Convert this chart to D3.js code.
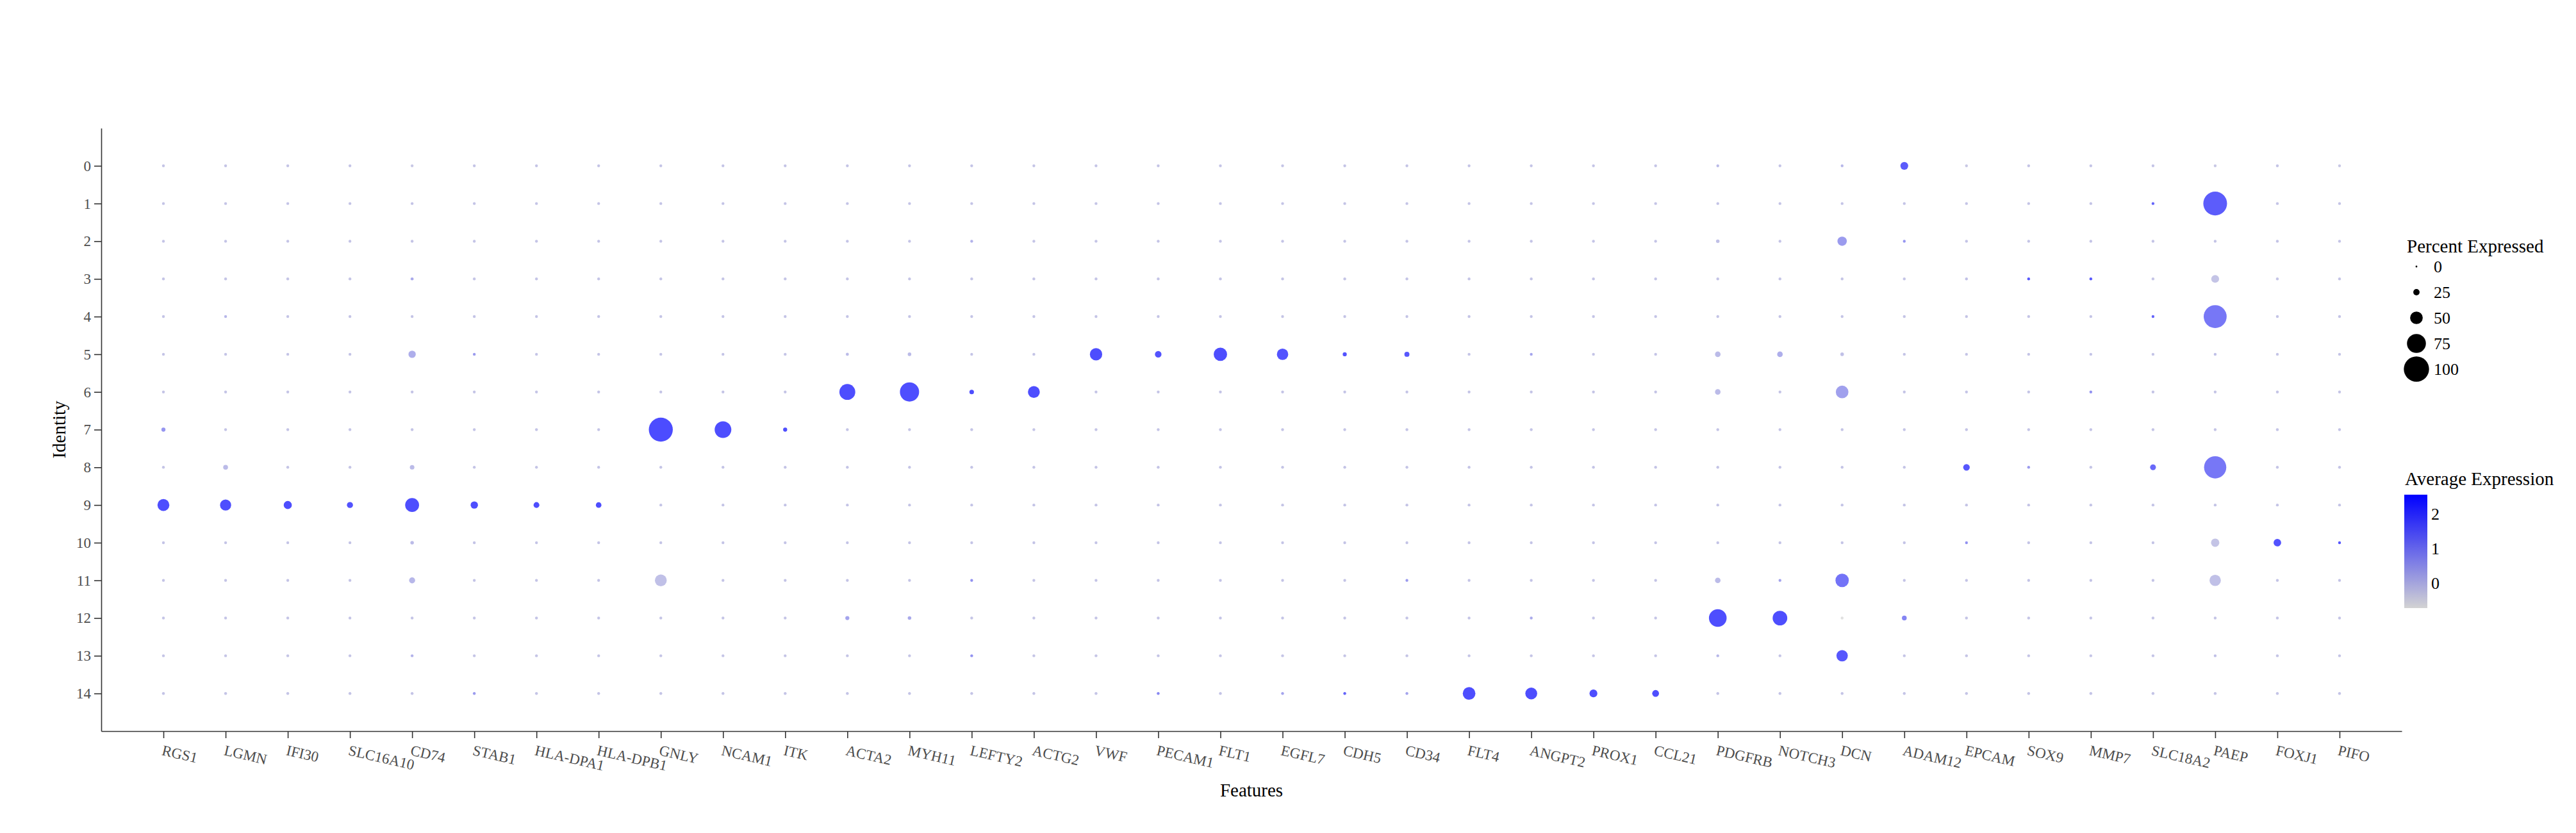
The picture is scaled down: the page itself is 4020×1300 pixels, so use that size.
<!DOCTYPE html>
<html><head><meta charset="utf-8">
<script src="https://cdn.jsdelivr.net/npm/d3@7/dist/d3.min.js"></script>
<style>
body{margin:0;background:#fff}
svg{display:block}
text{font-family:"Liberation Serif","Times New Roman",Times,serif}
</style>
</head><body>
<svg id="chart" width="4020" height="1300"></svg>
<script>
// ---------- data ----------
const features = ["RGS1","LGMN","IFI30","SLC16A10","CD74","STAB1","HLA-DPA1","HLA-DPB1","GNLY","NCAM1","ITK","ACTA2","MYH11","LEFTY2","ACTG2","VWF","PECAM1","FLT1","EGFL7","CDH5","CD34","FLT4","ANGPT2","PROX1","CCL21","PDGFRB","NOTCH3","DCN","ADAM12","EPCAM","SOX9","MMP7","SLC18A2","PAEP","FOXJ1","PIFO"];
const clusters = ["0","1","2","3","4","5","6","7","8","9","10","11","12","13","14"];

// percent expressed, one row per cluster, one column per feature
const pctExpressed = [
/*0*/ [2,2,2,2,2,2,2,2, 2,2,2, 2,2,2,2, 2,2,2,2,2,2, 2,2,2,2, 10,2,10,31, 2,2,2,2,2,2,2],
/*1*/ [2,2,2,2,2,2,2,2, 2,2,2, 2,2,2,2, 2,2,2,2,2,2, 2,2,2,2, 2,2,2,2, 2,2,2,7,94,2,2],
/*2*/ [2,2,2,2,2,2,2,2, 2,2,2, 2,2,3,2, 2,2,2,2,2,2, 2,2,2,2, 14,2,37,7, 2,2,2,2,2,2,2],
/*3*/ [2,2,2,2,12,2,2,2, 2,2,2, 2,2,2,2, 2,2,2,2,2,2, 2,2,2,2, 2,2,2,2, 3,4,4,2,31,2,2],
/*4*/ [2,3,2,2,2,2,2,2, 2,2,2, 2,2,2,2, 2,2,2,2,2,2, 2,2,2,2, 2,2,2,2, 2,2,2,4,91,2,2],
/*5*/ [2,2,2,2,29,3,2,2, 2,2,2, 12,14,2,2, 49,26,53,45,16,20, 2,6,2,2, 22,22,14,2, 2,2,2,2,2,2,2],
/*6*/ [2,2,2,2,2,2,2,2, 2,2,2, 63,76,18,47, 2,2,2,2,2,2, 2,2,2,2, 22,2,50,2, 2,2,4,2,2,2,2],
/*7*/ [16,2,2,2,2,2,2,2, 95,66,16, 2,2,2,2, 2,2,2,2,2,2, 2,2,2,2, 2,2,2,2, 2,2,2,2,2,2,2],
/*8*/ [2,19,2,2,18,2,2,2, 2,2,2, 2,2,2,2, 2,2,2,2,2,2, 2,2,2,2, 2,2,2,2, 26,5,2,23,88,2,2],
/*9*/ [47,44,32,24,55,29,23,22, 2,2,2, 2,2,2,2, 2,2,2,2,2,2, 2,2,2,2, 2,2,2,2, 2,2,2,2,2,2,2],
/*10*/[2,2,2,2,14,2,2,2, 2,2,2, 2,2,2,2, 2,2,2,2,2,2, 2,2,2,2, 2,2,2,2, 4,2,2,2,33,30,6],
/*11*/[2,2,2,2,24,2,2,2, 47,2,2, 2,2,4,2, 2,2,2,2,2,4, 2,2,2,2, 22,6,53,2, 2,2,2,2,45,2,2],
/*12*/[2,2,2,2,2,2,2,2, 2,2,2, 16,14,2,2, 2,2,2,2,2,2, 2,5,2,2, 70,58,2,19, 2,2,2,2,2,2,2],
/*13*/[2,2,2,2,3,2,2,2, 2,2,2, 2,2,4,2, 2,2,2,2,2,2, 2,2,2,2, 6,2,45,2, 2,2,2,2,5,2,2],
/*14*/[2,2,2,2,2,4,2,2, 2,2,2, 2,2,2,2, 2,5,2,5,4,4, 50,47,31,27, 2,2,2,2, 2,2,2,2,2,2,2]
];

// average (scaled) expression, same layout
const avgExpression = [
/*0*/ [-0.1,-0.1,-0.1,-0.1,-0.2,-0.1,-0.1,-0.1, -0.1,-0.1,-0.1, -0.1,-0.1,-0.1,-0.1, -0.1,-0.1,-0.1,-0.1,-0.1,-0.1, -0.1,-0.1,-0.1,-0.1, 0.1,-0.1,0.2,2.2, -0.2,-0.1,-0.1,-0.1,-0.2,-0.1,-0.2],
/*1*/ [-0.1,-0.1,-0.1,-0.1,-0.1,-0.1,-0.1,-0.1, -0.1,-0.1,-0.1, -0.1,-0.1,-0.1,-0.1, -0.1,-0.1,-0.1,-0.1,-0.1,-0.1, -0.1,-0.1,-0.1,-0.1, -0.1,-0.1,-0.1,-0.1, -0.1,-0.1,-0.1,2.0,2.2,-0.1,-0.1],
/*2*/ [-0.1,-0.1,-0.1,-0.1,-0.1,-0.1,-0.1,-0.1, -0.1,-0.1,-0.1, -0.1,-0.1,0.3,-0.1, -0.1,-0.1,-0.1,-0.1,-0.1,-0.1, -0.1,-0.1,-0.1,-0.1, 0.0,-0.1,0.8,0.9, -0.1,-0.1,-0.1,-0.1,-0.1,-0.1,-0.1],
/*3*/ [-0.1,-0.1,-0.1,-0.1,0.5,-0.1,-0.1,-0.1, -0.1,-0.1,-0.1, -0.1,-0.1,-0.1,-0.1, -0.1,-0.1,-0.1,-0.1,-0.1,-0.1, -0.1,-0.1,-0.1,-0.1, -0.1,-0.1,-0.1,-0.1, 0.0,2.3,2.3,-0.1,-0.1,-0.1,-0.1],
/*4*/ [-0.1,0.2,-0.1,-0.1,-0.1,-0.1,-0.1,-0.1, -0.1,-0.1,-0.1, -0.1,-0.1,-0.1,-0.1, -0.1,-0.1,-0.1,-0.1,-0.1,-0.1, -0.1,-0.1,-0.1,-0.1, -0.1,-0.1,-0.1,-0.1, -0.1,-0.1,-0.1,2.0,1.6,-0.1,-0.1],
/*5*/ [-0.1,-0.1,-0.1,-0.1,0.4,0.8,-0.1,-0.1, -0.1,-0.1,-0.1, 0.1,0.1,-0.1,-0.1, 2.5,2.4,2.5,2.4,2.4,2.3, -0.1,0.6,-0.1,-0.1, 0.1,0.4,0.0,-0.1, -0.1,-0.1,-0.1,-0.1,0.0,-0.1,-0.1],
/*6*/ [-0.1,-0.1,-0.1,-0.1,-0.1,-0.1,-0.1,-0.1, -0.1,-0.1,-0.1, 2.5,2.5,2.5,2.5, -0.1,-0.1,-0.1,-0.1,-0.1,-0.1, -0.1,-0.1,-0.1,-0.1, 0.1,-0.1,0.7,-0.1, -0.1,-0.1,1.0,-0.1,-0.1,-0.1,-0.1],
/*7*/ [0.9,-0.1,-0.1,-0.1,-0.1,-0.1,-0.1,-0.1, 2.55,2.5,2.5, -0.1,-0.1,-0.1,-0.1, -0.1,-0.1,-0.1,-0.1,-0.1,-0.1, -0.1,-0.1,-0.1,-0.1, -0.1,-0.1,-0.1,-0.1, -0.1,-0.1,-0.1,-0.1,-0.1,-0.1,-0.1],
/*8*/ [-0.1,0.1,-0.1,-0.1,0.1,-0.1,-0.1,-0.1, -0.1,-0.1,-0.1, -0.1,-0.1,-0.1,-0.1, -0.1,-0.1,-0.1,-0.1,-0.1,-0.1, -0.1,-0.1,-0.1,-0.1, -0.1,-0.1,-0.1,-0.1, 2.3,0.8,-0.1,1.9,1.6,-0.1,-0.1],
/*9*/ [2.5,2.5,2.5,2.4,2.5,2.5,2.5,2.5, -0.1,-0.1,-0.1, -0.1,-0.1,-0.1,-0.1, -0.1,-0.1,-0.1,-0.1,-0.1,-0.1, -0.1,-0.1,-0.1,-0.1, -0.1,-0.1,-0.1,-0.1, -0.1,-0.1,-0.1,-0.1,-0.1,-0.1,-0.1],
/*10*/[-0.1,-0.1,-0.1,-0.1,0.1,-0.1,-0.1,-0.1, -0.1,-0.1,-0.1, -0.1,-0.1,-0.1,-0.1, -0.1,-0.1,-0.1,-0.1,-0.1,-0.1, -0.1,-0.1,-0.1,-0.1, -0.1,-0.1,-0.1,-0.1, 1.0,-0.1,-0.1,-0.1,-0.1,2.4,2.3],
/*11*/[-0.1,-0.1,-0.1,-0.1,0.2,-0.1,-0.1,-0.1, 0.0,-0.1,-0.1, -0.1,-0.1,1.0,-0.1, -0.1,-0.1,-0.1,-0.1,-0.1,0.8, -0.1,-0.1,-0.1,-0.1, 0.1,0.6,1.7,-0.1, -0.1,-0.1,-0.1,-0.1,0.0,-0.1,-0.1],
/*12*/[-0.1,-0.1,-0.1,-0.1,-0.1,-0.1,-0.1,-0.1, -0.1,-0.1,-0.1, 0.6,0.5,-0.1,-0.1, -0.1,-0.1,-0.1,-0.1,-0.1,-0.1, -0.1,0.5,-0.1,-0.1, 2.5,2.5,-0.72,1.3, -0.1,-0.1,-0.1,-0.1,-0.1,-0.1,-0.1],
/*13*/[-0.1,-0.1,-0.1,-0.1,0.3,-0.1,-0.1,-0.1, -0.1,-0.1,-0.1, -0.1,-0.1,1.0,-0.1, -0.1,-0.1,-0.1,-0.1,-0.1,-0.1, -0.1,-0.1,-0.1,-0.1, 0.2,-0.1,2.3,-0.1, -0.1,-0.1,-0.1,-0.1,0.0,-0.1,-0.1],
/*14*/[-0.1,-0.1,-0.1,-0.1,-0.1,0.8,-0.1,-0.1, -0.1,-0.1,-0.1, -0.1,-0.1,-0.1,-0.1, -0.1,1.2,-0.1,0.6,2.0,0.6, 2.5,2.5,2.5,2.5, -0.1,-0.1,-0.1,-0.1, -0.1,-0.1,-0.1,-0.1,-0.1,-0.1,-0.1]
];

const sizeBreaks = [0, 25, 50, 75, 100];
const colorBreaks = [0, 1, 2];

// ---------- layout ----------
const svg = d3.select("#chart");
const plot = {left: 158, right: 3748, top: 200, bottom: 1141};

const x = d3.scalePoint().domain(features).range([plot.left, plot.right]).padding(1);
const y = d3.scalePoint().domain(clusters).range([plot.top, plot.bottom]).padding(1);
const rScale = d3.scaleLinear().domain([0, 100]).range([0, 19.7]);
const radius = p => Math.max(2.2, rScale(p));
const cDomain = d3.extent(avgExpression.flat());
const color = d3.scaleLinear().domain(cDomain).range(["lightgrey", "blue"]).interpolate(d3.interpolateRgb);

// ---------- dots ----------
const cells = [];
clusters.forEach((c, i) => features.forEach((f, j) => {
  cells.push({cluster: c, feature: f, pct: pctExpressed[i][j], avg: avgExpression[i][j]});
}));

svg.append("g").selectAll("circle").data(cells).join("circle")
  .attr("cx", d => x(d.feature))
  .attr("cy", d => y(d.cluster))
  .attr("r", d => radius(d.pct))
  .attr("fill", d => color(d.avg))
  .attr("fill-opacity", 0.7);

// ---------- axes ----------
const axisColor = "#333333";
const labelColor = "#4d4d4d";

const xAxis = svg.append("g").attr("transform", `translate(0,${plot.bottom})`)
  .call(d3.axisBottom(x).tickSize(11).tickSizeOuter(0));
xAxis.select(".domain").attr("stroke", axisColor).attr("stroke-width", 1.6);
xAxis.selectAll(".tick line").attr("stroke", axisColor).attr("stroke-width", 1.6);
xAxis.selectAll(".tick text")
  .attr("x", 0).attr("y", 0).attr("dy", "0.8em")
  .attr("transform", "translate(0,19) rotate(13)")
  .attr("text-anchor", "start")
  .attr("font-size", 23)
  .attr("font-family", '"Liberation Serif", serif')
  .attr("fill", labelColor);

const yAxis = svg.append("g").attr("transform", `translate(${plot.left},0)`)
  .call(d3.axisLeft(y).tickSize(11).tickPadding(5).tickSizeOuter(0));
yAxis.select(".domain").attr("stroke", axisColor).attr("stroke-width", 1.6);
yAxis.selectAll(".tick line").attr("stroke", axisColor).attr("stroke-width", 1.6);
yAxis.selectAll(".tick text")
  .attr("font-size", 23)
  .attr("font-family", '"Liberation Serif", serif')
  .attr("fill", labelColor);

// axis titles
svg.append("text")
  .attr("x", (plot.left + plot.right) / 2).attr("y", 1243)
  .attr("text-anchor", "middle").attr("font-size", 29).attr("fill", "#000")
  .text("Features");
svg.append("text")
  .attr("transform", `translate(102,${(plot.top + plot.bottom) / 2}) rotate(-90)`)
  .attr("text-anchor", "middle").attr("font-size", 29).attr("fill", "#000")
  .text("Identity");

// ---------- size legend ----------
const sizeLeg = svg.append("g");
sizeLeg.append("text").attr("x", 3756).attr("y", 394)
  .attr("font-size", 29).attr("fill", "#000").text("Percent Expressed");
const legY = d3.scalePoint().domain(sizeBreaks).range([416, 576]);
sizeLeg.selectAll("circle").data(sizeBreaks).join("circle")
  .attr("cx", 3771).attr("cy", d => legY(d)).attr("r", d => Math.max(1.4, rScale(d))).attr("fill", "#000");
sizeLeg.selectAll("text.lab").data(sizeBreaks).join("text").attr("class", "lab")
  .attr("x", 3798).attr("y", d => legY(d)).attr("dy", "0.34em")
  .attr("font-size", 26).attr("fill", "#000").text(d => d);

// ---------- colour legend ----------
const colLeg = svg.append("g");
colLeg.append("text").attr("x", 3753).attr("y", 757)
  .attr("font-size", 29).attr("fill", "#000").text("Average Expression");
const cb = d3.scaleLinear().domain(cDomain).range([949, 772]);
const grad = svg.append("defs").append("linearGradient")
  .attr("id", "cbar").attr("x1", 0).attr("y1", 1).attr("x2", 0).attr("y2", 0);
d3.range(0, 1.0001, 0.05).forEach(t => {
  grad.append("stop").attr("offset", t)
    .attr("stop-color", color(cDomain[0] + t * (cDomain[1] - cDomain[0])));
});
colLeg.append("rect").attr("x", 3752).attr("width", 36)
  .attr("y", cb(cDomain[1])).attr("height", cb(cDomain[0]) - cb(cDomain[1]))
  .attr("fill", "url(#cbar)");
colLeg.selectAll("text.lab").data(colorBreaks).join("text").attr("class", "lab")
  .attr("x", 3794).attr("y", d => cb(d)).attr("dy", "0.35em")
  .attr("font-size", 26).attr("fill", "#000").text(d => d);
</script>
</body></html>
